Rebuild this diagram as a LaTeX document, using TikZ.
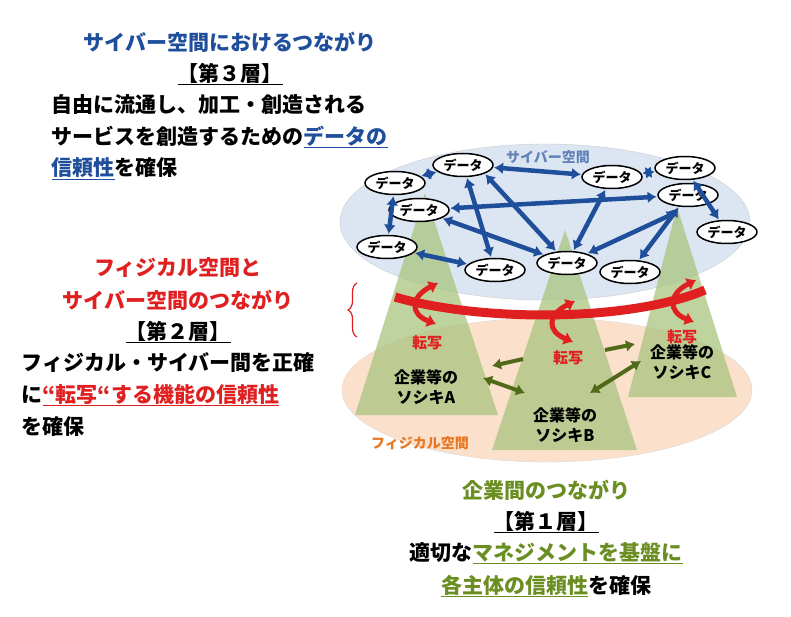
\documentclass[tikz,border=0pt]{standalone}
\usepackage{fontspec}
\setmainfont{Noto Sans CJK JP}
\usetikzlibrary{shapes.geometric,arrows.meta,decorations.pathreplacing}
\definecolor{cyberblue}{HTML}{1F4E9A}
\definecolor{layerred}{HTML}{E02020}
\definecolor{layergreen}{HTML}{6B8E23}
\definecolor{physorange}{HTML}{E87722}
\definecolor{cyberfill}{HTML}{DCE6F2}
\definecolor{physfill}{HTML}{FBE0CC}
\definecolor{peakfill}{HTML}{A9C47F}
\tikzset{
  data/.style={ellipse,draw,line width=1.5pt,fill=white,inner sep=1pt,minimum width=60pt,minimum height=23pt,font=\fontsize{13}{13}\selectfont\bfseries},
  link/.style={draw=cyberblue,line width=4.5pt,{Latex[length=9pt,width=12pt]}-{Latex[length=9pt,width=12pt]},shorten >=1pt,shorten <=1pt},
  tie/.style={draw=layergreen!75!black,line width=4pt,-{Latex[length=9pt,width=12pt]}},
  tietwo/.style={tie,{Latex[length=9pt,width=12pt]}-{Latex[length=9pt,width=12pt]}},
  swap/.style={draw=layerred,line width=5pt,{Latex[length=9pt,width=14pt]}-{Latex[length=9pt,width=14pt]}},
  big/.style={font=\fontsize{21}{25}\selectfont\bfseries},
  peak/.style={fill=peakfill,opacity=0.75}
}
\begin{document}
\begin{tikzpicture}[x=1pt,y=-1pt]
\useasboundingbox (0,0) rectangle (791,617);
% spaces
\fill[physfill,draw=gray!30] (547,390) ellipse (205 and 72);
\node[font=\fontsize{14}{14}\selectfont\bfseries,text=physorange] (physlabel) at (420,443) {フィジカル空間};
\fill[cyberfill,draw=gray!40] (545,222) ellipse (205 and 78);
\node[font=\fontsize{14}{14}\selectfont\bfseries,text=cyberblue!70] (cyberlabel) at (548,157) {サイバー空間};
% peaks
\fill[peak] (425,193) -- (498,415) -- (355,415) -- cycle;
\fill[peak] (565,230) -- (637,450) -- (492,450) -- cycle;
\fill[peak] (677,207) -- (737,397) -- (628,397) -- cycle;
% data nodes
\node[data] (d1) at (463,165) {データ};
\node[data] (d2) at (395,183) {データ};
\node[data] (d3) at (419,210) {データ};
\node[data] (d4) at (387,247) {データ};
\node[data] (d5) at (495,270) {データ};
\node[data] (d6) at (567,263) {データ};
\node[data] (d7) at (630,272) {データ};
\node[data] (d8) at (612,177) {データ};
\node[data] (d9) at (685,168) {データ};
\node[data] (d10) at (688,195) {データ};
\node[data] (d11) at (727,232) {データ};
\path[link] (d2) -- (d1);
\path[link] (d1) -- (d8);
\path[link] (d2) -- (d4);
\path[link] (d3) -- (d10);
\path[link] (d3) -- (d6);
\path[link] (d4) -- (d5);
\path[link] (d1) -- (d5);
\path[link] (d1.south east) -- (d6);
\path[link] (d8) -- (d6);
\path[link] (d10) -- (d7);
\path[link] (d6) -- (677,212);
\path[link] (d8) -- (d9);
\path[link] (d9) -- (d11);
% transfer band
\draw[layerred,line width=9pt] (395,297) .. controls (480,322) and (630,322) .. (705,290);
\path[swap] (438,283) .. controls (410,297) and (410,314) .. (436,324);
\path[swap] (575,301) .. controls (547,315) and (547,331) .. (573,342);
\path[swap] (696,280) .. controls (668,294) and (668,312) .. (694,322);
\node[font=\fontsize{15}{15}\selectfont\bfseries,text=layerred] (tA) at (427,343) {転写};
\node[font=\fontsize{15}{15}\selectfont\bfseries,text=layerred] (tB) at (568,358) {転写};
\node[font=\fontsize{15}{15}\selectfont\bfseries,text=layerred] (tC) at (682,337) {転写};
% companies
\node[align=center,font=\fontsize{16}{20}\selectfont\bfseries] (cA) at (426,387) {企業等の\\ソシキA};
\node[align=center,font=\fontsize{16}{20}\selectfont\bfseries] (cB) at (565,425) {企業等の\\ソシキB};
\node[align=center,font=\fontsize{16}{20}\selectfont\bfseries] (cC) at (682,362) {企業等の\\ソシキC};
\draw[tie] (523,359) -- (492,366);
\draw[tie] (605,350) -- (635,344);
\draw[tietwo] (483,378) -- (525,393);
\draw[tietwo] (590,393) -- (641,361);
% brace
\draw[layerred,line width=1.2pt,decorate,decoration={brace,amplitude=9pt}] (357,337) -- (357,283);
% layer 3 text
\node[big,text=cyberblue] (l3title) at (230,42) {サイバー空間におけるつながり};
\node[big] (l3name) at (230,74) {\underline{【第３層】}};
\node[big,anchor=west] (l3a) at (48,105) {自由に流通し、加工・創造される};
\node[big,anchor=west] (l3b) at (48,137) {サービスを創造するための\textcolor{cyberblue}{\underline{データの}}};
\node[big,anchor=west] (l3c) at (48,169) {\textcolor{cyberblue}{\underline{信頼性}}を確保};
% layer 2 text
\node[big,text=layerred] (l2title) at (178,268) {フィジカル空間と};
\node[big,text=layerred] (l2sub) at (178,300) {サイバー空間のつながり};
\node[big] (l2name) at (178,332) {\underline{【第２層】}};
\node[big,anchor=west] (l2a) at (18,363) {フィジカル・サイバー間を正確};
\node[big,anchor=west] (l2b) at (18,395) {に\textcolor{layerred}{\underline{“転写“する機能の信頼性}}};
\node[big,anchor=west] (l2c) at (18,427) {を確保};
% layer 1 text
\node[big,text=layergreen] (l1title) at (546,490) {企業間のつながり};
\node[big] (l1name) at (546,522) {\underline{【第１層】}};
\node[big] (l1a) at (546,553) {適切な\textcolor{layergreen}{\underline{マネジメントを基盤に}}};
\node[big] (l1b) at (546,586) {\textcolor{layergreen}{\underline{各主体の信頼性}}を確保};
\end{tikzpicture}
\end{document}
